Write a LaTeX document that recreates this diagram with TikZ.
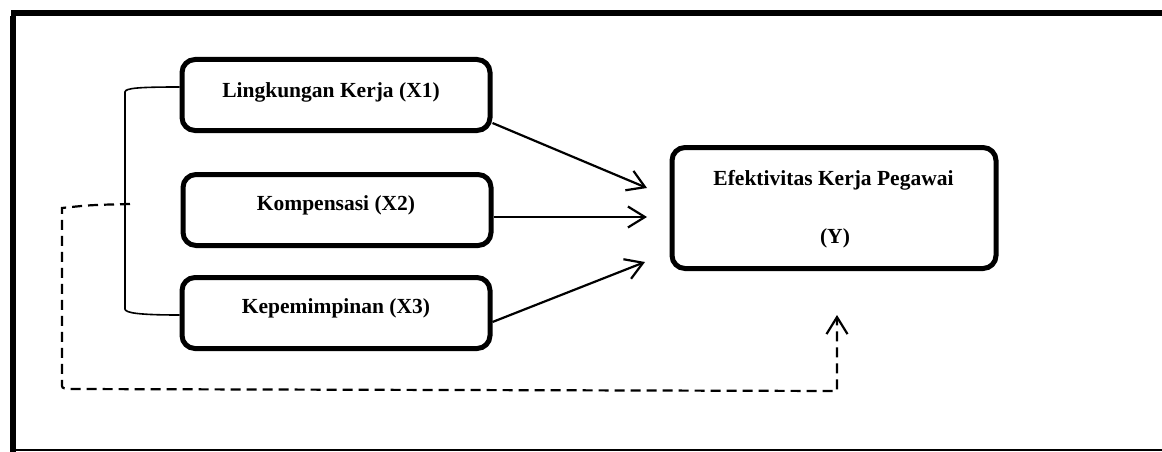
\documentclass[tikz,border=0pt]{standalone}
\usepackage{fontspec}
\setmainfont{Liberation Serif}
\usetikzlibrary{arrows.meta,calc}
\begin{document}
\begin{tikzpicture}[x=1pt,y=-1pt,
  box/.style={draw,line width=5pt,rounded corners=13pt,inner sep=0pt,minimum width=308pt,minimum height=71pt},
  lbl/.style={font=\fontsize{21.5}{26}\selectfont\bfseries,inner sep=0pt,anchor=base},
  conn/.style={line width=2.2pt},
  arr/.style={conn,-{Straight Barb[length=17pt,width=21pt]}},
  dashconn/.style={line width=2.2pt,dash pattern=on 10pt off 6pt}
]
\useasboundingbox (0,0) rectangle (1162,452);
% frame
\draw[line width=6pt] (11,13) -- (1162,13);
\draw[line width=6pt] (13,16) -- (13,452);
\draw[line width=2pt] (10,450.3) -- (1162,450.3);

% boxes
\node[box] (X1) at (336,95) {};
\node[box] (X2) at (337,210) {};
\node[box] (X3) at (336,313) {};
\node[box,minimum width=324pt,minimum height=121pt] (Y) at (834,208) {};

% texts
\node[lbl] (X1t) at ($(X1)+(-5,2)$) {Lingkungan Kerja (X1)};
\node[lbl] (X2t) at ($(X2)+(-1,0)$) {Kompensasi (X2)};
\node[lbl] (X3t) at ($(X3)+(0,0)$) {Kepemimpinan (X3)};
\node[lbl] (Yt1) at ($(Y)+(-0.5,-23)$) {Efektivitas Kerja Pegawai};
\node[lbl] (Yt2) at ($(Y)+(1,35)$) {(Y)};

% arrow tips
\coordinate (t1) at (647,188);
\coordinate (t2) at (647,217);
\coordinate (t3) at (645,262);
\coordinate (t4) at (837,315);

\draw[arr] ($(X1.east)+(0,28)$) -- (t1);
\draw[arr] ($(X2.east)+(0,7)$) -- (t2);
\draw[arr] ($(X3.east)+(0,9)$) -- (t3);

% bracket
\coordinate (bt) at ($(X1.west)+(0,-8)$);
\coordinate (bb) at ($(X3.west)+(0,2)$);
\draw[line width=1.6pt] (bt) .. controls (140,87) and (125,88) .. (125,92) -- (125,309) .. controls (125,313) and (140,315) .. (bb);

% dashed feedback
\coordinate (ds) at (130,204);
\draw[dashconn,-{Straight Barb[length=17pt,width=21pt]}] (ds) .. controls (90,205) .. (62,208) -- (62,384) .. controls (62,388) .. (68,389) -- (837,391) -- (t4);
\end{tikzpicture}
\end{document}
